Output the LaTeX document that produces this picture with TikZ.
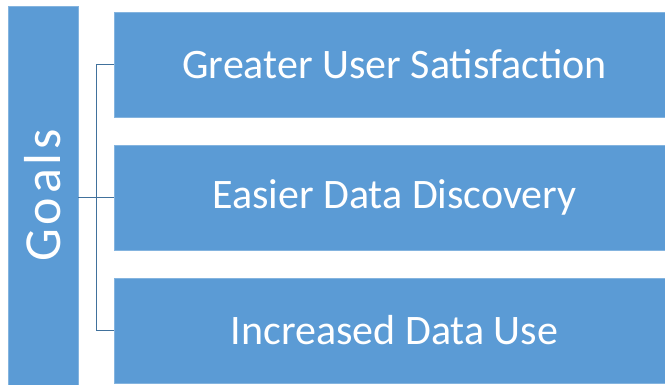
\documentclass[tikz,border=0pt]{standalone}
\usepackage{fontspec}
\setmainfont{Carlito}
\usepackage{tikz}
\usetikzlibrary{positioning}
\definecolor{goalblue}{HTML}{5B9BD5}
\definecolor{linkblue}{HTML}{41719C}

\begin{document}
\begin{tikzpicture}[
    x=1pt, y=-1pt,
    goalbox/.style={draw=goalblue!75!white, line width=0.6pt, fill=goalblue, text=white, inner sep=0pt, minimum width=551pt, minimum height=105pt, font=\fontsize{42}{44}\selectfont, execute at begin node=\hspace*{10pt}},
    titlebar/.style={draw=goalblue!75!white, line width=0.6pt, fill=goalblue, text=white, inner sep=0pt, minimum width=70pt, minimum height=379pt},
    link/.style={draw=linkblue, line width=0.9pt},
]
\useasboundingbox (0,0) rectangle (665,385);

\node[titlebar] (goals) at (43,195.5) {};
\node[rotate=90, text=white, font=\fontsize{52}{54}\selectfont\addfontfeature{LetterSpace=7}] (goalstext) at (goals.center) {Goals};

\node[goalbox] (satisfaction) at (389.5,64.5) {Greater User Satisfaction};
\node[goalbox] (discovery) at (389.5,197.5) {Easier Data Discovery};
\node[goalbox] (datause) at (389.5,330.5) {Increased Data Use};

% bracket from the title bar to the three goals
\coordinate (split) at (96.5,197.5);
\draw[link] (goals.east|-split) -- (discovery.west);
\draw[link] (satisfaction.west) -| (split) |- (datause.west);

\end{tikzpicture}
\end{document}
